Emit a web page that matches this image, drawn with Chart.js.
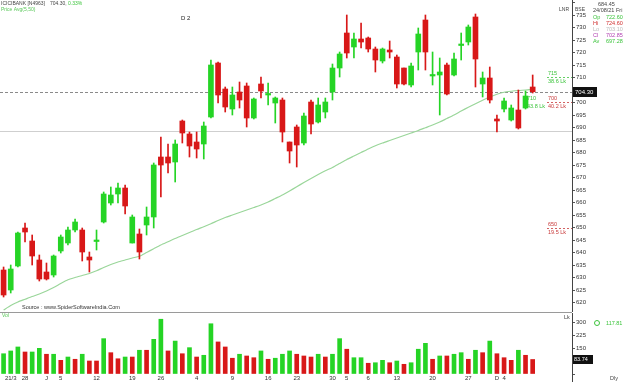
<!DOCTYPE html>
<html><head><meta charset="utf-8">
<script src="https://cdn.jsdelivr.net/npm/chart.js@4.4.1/dist/chart.umd.min.js"></script>
<style>
html,body{margin:0;padding:0;background:#fff;width:624px;height:382px;overflow:hidden}
#pc{position:absolute;left:0;top:0}
#vc{position:absolute;left:0;top:312px}
</style></head><body>
<canvas id="pc" width="624" height="312"></canvas>
<canvas id="vc" width="624" height="70"></canvas>
<script>
// ---------- data ----------
const tickPos  = [1,3,6,8,13,18,22,27,32,37,41,46,48,51,55,60,65,69,70];
const tickText = ['21/3','28','J','5','12','19','26','4','9','16','23','30','5','6','13','20','27','D','4'];
const slotCount = 80;

const opens  = [633,625,634.6,649.8,644.6,637,632.2,631,640.6,643.8,649,649,638.2,644.4,652.2,659.8,663.4,665.8,643.8,647.4,
  651,654.2,678.2,678.2,676.2,692.6,687.4,684.2,683.4,694.2,715.8,705.4,697.4,704.2,706.6,693.8,707.4,703,699.8,701,
  684.2,690.2,683.8,700.2,692.2,696.2,704.2,713.8,727.8,722.2,725.4,725.8,721.4,716.6,721,718.2,713.8,707,720.2,733,
  710.6,711,715,711,722.8,724.2,734.2,707.4,709.8,693.4,697.4,693,697,697.8,706.2];
const highs  = [634.2,635,648.2,651.8,647,639,635.8,639,647,650.2,653.4,649.8,640.2,649,664.2,666.2,667.8,667,655,649.4,
  658.2,675.8,686.2,683.4,685,693,688.2,688.2,692.2,717,716.2,706.2,706.2,708.2,707.8,701.8,710.2,707.8,702.2,701.8,
  684.2,691,695.8,701,701.8,701.8,715.4,720.2,735,727.8,731.8,726.2,722.2,721.8,724.6,719,713.8,715.8,729.8,735,
  720.2,717.8,715.8,719.8,727.8,731,735.4,712.2,714.2,695,701.8,699,705,704.6,711];
const lows   = [622.2,623.8,634.2,644.2,635,628.6,629,630.2,639.8,643,648.2,636.6,632.2,641,651.8,659,659.8,655.4,643.8,637.4,
  647,649.8,662.2,671.8,668.2,683.8,678.2,677.8,677.4,693.8,699.8,696.2,695,697.8,690.2,693.4,701.8,699,691.8,684.2,
  675.8,674.2,683,687.4,691.8,693.8,701,710.2,717.8,717.8,721.8,720.2,712.2,715.8,717.8,705.8,707,706.2,713,713,
  707,695,703,710.6,717,723,706.2,702.2,699.8,688.2,696.2,692.6,689.4,697.4,703.8];
const closes = [623,633.4,647.8,648.2,638.6,629.4,629.4,638.6,646.2,649,652.2,640.2,637,644.8,663.4,663,665.8,658.6,654.2,640.2,
  654.2,675,675,675.8,683.4,687.8,682.6,681.4,690.6,715,703,698.2,703,701,693.8,701.4,704.6,703.2,701.8,688.2,
  680.6,683,694.6,691.4,699,700.2,713.8,719.4,719.8,725.4,724.2,721.4,717,721.4,720.2,707.4,707.4,714.6,727.4,720.2,
  710.8,712.2,703.4,717.4,723.4,730.2,717.4,709.8,701,692.6,700.6,697.8,689.8,702.6,704.3];
const ma50   = [617.0,618.8,620.2,621.3,622.4,623.4,624.6,626.0,627.6,629.1,630.0,630.8,631.6,632.7,634.0,635.2,636.2,637.0,637.8,638.5,
  640.0,641.5,643.0,644.3,645.6,646.8,648.0,649.2,650.3,651.5,652.8,654.0,655.0,656.0,657.0,658.0,659.0,660.2,661.6,663.0,
  664.6,666.3,668.0,669.6,671.2,672.7,674.0,675.6,677.2,678.6,680.0,681.4,682.7,683.8,684.8,685.8,686.8,687.8,688.8,689.9,
  691.0,692.2,693.6,695.0,696.6,698.1,699.5,700.9,702.2,703.3,704.1,704.5,704.8,705.0,705.3];
const volumes = [117,133,156,127,127,148,114,114,79,98,85,114,75,75,204,123,88,98,98,137,
  137,200,316,133,190,117,152,98,108,290,185,156,91,114,104,94,133,85,91,114,
  133,114,104,98,114,98,114,204,143,94,94,62,65,79,65,75,56,65,143,177,
  85,104,104,114,123,85,137,123,190,117,94,79,137,108,83.74];
const volDir = 'gggrggrgrgrgrrgrrgrgrggrgrgrggrrrgrrgrgggrrrgrggrggrggrgrgggrgrggrgrgrrrgrr';

const lastPrice = 704.30;
const supportLevel = 688.5;
const priceMin = 616.2, priceMax = 741;
const volMax = 352;
const noteLevels = [710.2, 700.2, 650];
const noteTops   = ['715', '700', '650'];
const noteSubs   = ['38.6 Lk', '40.2 Lk', '19.5 Lk'];
const noteUp     = [true, false, false];

// ---------- helpers ----------
const G = '#25d425', R = '#d81818', MAC = '#9ad69a';
const FONT = '"Liberation Sans", Arial, sans-serif';
const labels = Array.from({length: slotCount}, (_, i) => { const k = tickPos.indexOf(i); return k >= 0 ? tickText[k] : ''; });
const candleCol = closes.map((c, i) => c >= opens[i] ? G : R);
const wicks = lows.map((l, i) => [l, highs[i]]);
const bodies = opens.map((o, i) => [o, closes[i]]);
const volCol = volumes.map((v, i) => volDir[i] === 'g' ? G : R);

function fixRight(s){ s.width = 52; s.paddingTop = 0; s.paddingBottom = 0; }
function txt(ctx, s, x, y, col, size, align){
  ctx.fillStyle = col; ctx.font = (size || 6) + 'px ' + FONT;
  ctx.textAlign = align || 'left'; ctx.textBaseline = 'middle'; ctx.fillText(s, x, y);
}

const ov1 = {
  id: 'ov1',
  beforeDatasetsDraw(chart){
    const {ctx, chartArea: a, scales: {y}} = chart;
    ctx.save();
    let py = Math.round(y.getPixelForValue(supportLevel)) + 0.5;
    ctx.strokeStyle = '#cfcfcf'; ctx.lineWidth = 1;
    ctx.beginPath(); ctx.moveTo(a.left, py); ctx.lineTo(a.right, py); ctx.stroke();
    py = Math.round(y.getPixelForValue(lastPrice)) + 0.5;
    ctx.strokeStyle = '#8a8a8a'; ctx.setLineDash([3, 2]);
    ctx.beginPath(); ctx.moveTo(a.left, py); ctx.lineTo(a.right, py); ctx.stroke();
    ctx.restore();
  },
  afterDraw(chart){
    const {ctx, chartArea: a, scales: {y}} = chart;
    ctx.save();
    noteLevels.forEach((lv, i) => {
      const py = Math.round(y.getPixelForValue(lv)) + 0.5;
      const col = noteUp[i] ? '#3cc43c' : '#c83a3a';
      ctx.strokeStyle = col; ctx.setLineDash([2, 2]); ctx.lineWidth = 0.8;
      ctx.beginPath(); ctx.moveTo(a.right - 25, py); ctx.lineTo(a.right, py); ctx.stroke();
      txt(ctx, noteTops[i], a.right - 24, py - 4, col, 5.5);
      txt(ctx, noteSubs[i], a.right - 24, py + 4, col, 5.5);
    });
    ctx.setLineDash([]);
    const p7 = y.getPixelForValue(700.2);
    txt(ctx, '710', a.right - 45, p7 - 4, '#3cc43c', 5.5);
    txt(ctx, '43.8 Lk', a.right - 45, p7 + 4, '#3cc43c', 5.5);
    const lp = Math.round(y.getPixelForValue(lastPrice));
    ctx.fillStyle = '#111'; ctx.fillRect(a.right + 1, lp - 5, 24, 10);
    txt(ctx, lastPrice.toFixed(2), a.right + 3, lp, '#fff', 6);
    // header
    txt(ctx, 'ICICIBANK [N4963]', 1, 4, '#444', 5);
    txt(ctx, lastPrice.toFixed(2) + ',', 50, 4, '#444', 5);
    txt(ctx, '0.33%', 68, 4, '#3cc43c', 5);
    txt(ctx, 'Price Avg(5,50)', 1, 10, '#5ac85a', 5);
    txt(ctx, 'D 2', 181, 18, '#222', 6);
    txt(ctx, 'Source : www.SpiderSoftwareIndia.Com', 22, 307, '#333', 5.5);
    // info panel
    txt(ctx, 'LNR', 559, 10, '#444', 5);
    txt(ctx, 'BSE', 575, 10, '#444', 5);
    txt(ctx, '684.45', 598, 4, '#444', 5.5);
    txt(ctx, '24/08/21 Fri', 593, 10, '#444', 5.5);
    const info = [['Op','722.60','#3cc43c'],['Hi','724.60','#d03030'],['Lo','703.10','#bbbbbb'],['Cl','702.85','#b040b0'],['Av','697.28','#3cc43c']];
    info.forEach((r, i) => { txt(ctx, r[0], 593, 17 + i * 6.2, r[2], 5.5); txt(ctx, r[1], 606, 17 + i * 6.2, r[2], 5.5); });
    ctx.restore();
  }
};

const ov2 = {
  id: 'ov2',
  beforeDraw(chart){
    const {ctx, chartArea: a} = chart;
    ctx.save();
    ctx.strokeStyle = '#9a9a9a'; ctx.lineWidth = 1;
    ctx.beginPath(); ctx.moveTo(0, 0.5); ctx.lineTo(a.right, 0.5); ctx.stroke();
    ctx.restore();
  },
  afterDraw(chart){
    const {ctx, chartArea: a, scales: {y}} = chart;
    ctx.save();
    ctx.strokeStyle = '#444'; ctx.lineWidth = 1;
    ctx.beginPath(); ctx.moveTo(a.right + 0.5, a.bottom); ctx.lineTo(a.right + 0.5, chart.height); ctx.stroke();
    txt(ctx, 'Vol', 2, 4, '#5ac85a', 5);
    txt(ctx, 'Lk', a.right - 8, 5, '#444', 5.5);
    const lv = volumes[volumes.length - 1];
    const vp = Math.round(y.getPixelForValue(lv));
    ctx.fillStyle = '#111'; ctx.fillRect(a.right + 1, vp - 4, 20, 9);
    txt(ctx, lv.toFixed(2), a.right + 2, vp + 0.5, '#fff', 5.5);
    ctx.strokeStyle = '#3cc43c'; ctx.beginPath(); ctx.arc(597, 11, 2.5, 0, Math.PI * 2); ctx.stroke();
    txt(ctx, '117.81', 606, 11, '#3cc43c', 5.5);
    txt(ctx, 'Dly', 610, 66, '#444', 5.5);
    ctx.restore();
  }
};

const axisY = (min, max, step, show) => ({
  position: 'right', min, max,
  afterFit: fixRight,
  border: {display: true, color: '#444', width: 1},
  grid: {drawOnChartArea: false, drawTicks: true, tickLength: 3, color: '#555'},
  ticks: {stepSize: step, includeBounds: false, autoSkip: false, padding: 1, color: '#333',
          font: {size: 6, family: FONT}, callback: show}
});

new Chart(document.getElementById('pc'), {
  type: 'bar',
  data: {labels, datasets: [
    {type: 'line', data: ma50, borderColor: MAC, borderWidth: 1.2, pointRadius: 0, tension: 0.2, order: 3},
    {data: wicks, backgroundColor: candleCol, barThickness: 1, grouped: false, order: 2},
    {data: bodies, backgroundColor: candleCol, barThickness: 5, grouped: false, minBarLength: 1.5, order: 1}
  ]},
  options: {
    responsive: false, animation: false, devicePixelRatio: 1,
    layout: {padding: 0},
    plugins: {legend: {display: false}, tooltip: {enabled: false}},
    scales: {
      x: {display: false, offset: true},
      y: axisY(priceMin, priceMax, 5, v => (v >= 620 && v <= 735) ? String(v) : '')
    }
  },
  plugins: [ov1]
});

new Chart(document.getElementById('vc'), {
  type: 'bar',
  data: {labels, datasets: [
    {data: volumes, backgroundColor: volCol, barThickness: 4}
  ]},
  options: {
    responsive: false, animation: false, devicePixelRatio: 1,
    layout: {padding: {top: 1, left: 0, right: 0, bottom: 0}},
    plugins: {legend: {display: false}, tooltip: {enabled: false}},
    scales: {
      x: {offset: true,
          afterFit(s){ s.height = 8; s.paddingLeft = 0; s.paddingRight = 0; },
          border: {display: false}, grid: {display: false, drawTicks: false},
          ticks: {autoSkip: false, maxRotation: 0, padding: 1, color: '#333', font: {size: 6, family: FONT}}},
      y: axisY(0, volMax, 75, v => (v >= 150 && v <= 300) ? String(v) : '')
    }
  },
  plugins: [ov2]
});
</script>
</body></html>
